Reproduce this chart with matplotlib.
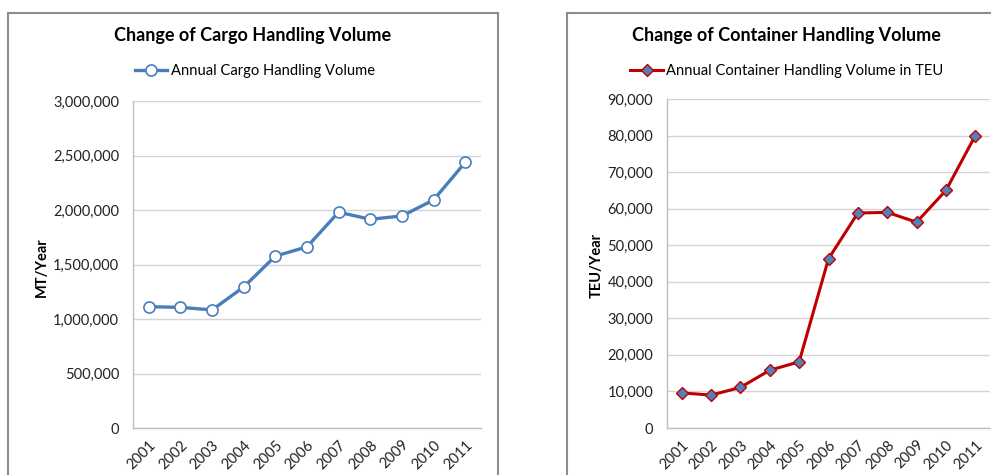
import matplotlib.pyplot as plt
from matplotlib.patches import Rectangle
from matplotlib.ticker import FuncFormatter

years = ['2001', '2002', '2003', '2004', '2005', '2006', '2007', '2008', '2009', '2010', '2011']
cargo_mt = [1113000, 1107000, 1083000, 1294000, 1577000, 1662000, 1980000, 1915000, 1945000, 2092000, 2436000]
container_teu = [9600, 9000, 11100, 15800, 18100, 46300, 58800, 59000, 56300, 65000, 80000]

plt.rcParams['font.family'] = ['Lato', 'DejaVu Sans']

W, H = 991, 475
fig = plt.figure(figsize=(W / 100, H / 100), dpi=100)


def px_axes(x0, y0, x1, y1):
    # pixel box (top-left origin) -> figure axes
    return fig.add_axes([x0 / W, 1 - y1 / H, (x1 - x0) / W, (y1 - y0) / H])


def style_axes(ax, ymax, step):
    ax.set_xlim(-0.5, len(years) - 0.5)
    ax.set_ylim(0, ymax)
    ax.set_yticks(range(0, ymax + 1, step))
    ax.yaxis.set_major_formatter(FuncFormatter(lambda v, p: f'{int(v):,}'))
    ax.set_xticks(range(len(years)))
    ax.set_xticklabels(years, rotation=45, ha='right', rotation_mode='anchor')
    ax.tick_params(length=0, labelsize=10.5, colors='#222222', pad=10)
    ax.tick_params(axis='x', pad=7)
    ax.grid(axis='y', color='#d4d4d4', linewidth=1)
    ax.set_axisbelow(True)
    for s in ('top', 'right'):
        ax.spines[s].set_visible(False)
    for s in ('left', 'bottom'):
        ax.spines[s].set_color('#bfbfbf')
        ax.spines[s].set_linewidth(1)


# chart frames
for x0, x1 in [(8, 498), (567, 1005)]:
    fig.patches.append(Rectangle((x0 / W, -0.1), (x1 - x0) / W, 1.1 - 13 / H,
                                 transform=fig.transFigure, fill=False,
                                 edgecolor='#8c8c8c', linewidth=1.5))

# cargo chart
ax1 = px_axes(133, 101, 481, 428)
ax1.plot(range(len(years)), cargo_mt, color='#4a7ebb', linewidth=2.4,
         marker='o', markersize=8, markerfacecolor='white',
         markeredgecolor='#4a7ebb', markeredgewidth=1.2,
         label='Annual Cargo Handling Volume')
style_axes(ax1, 3000000, 500000)
fig.text(253 / W, 1 - 36 / H, 'Change of Cargo Handling Volume',
         ha='center', va='center', fontsize=13, fontweight='bold')
ax1.legend(loc='center', bbox_to_anchor=(255 / W, 1 - 71 / H),
           bbox_transform=fig.transFigure, frameon=False, fontsize=10.6,
           handlelength=2.2, handletextpad=0.25, borderaxespad=0)
fig.text(42 / W, 1 - 267 / H, 'MT/Year', rotation=90, ha='center',
         va='center', fontsize=10.5, fontweight='bold')

# container chart
ax2 = px_axes(667, 99, 990, 428)
ax2.plot(range(len(years)), container_teu, color='#c00000', linewidth=2.2,
         marker='D', markersize=6.5, markerfacecolor='#4f81bd',
         markeredgecolor='#c00000', markeredgewidth=1,
         label='Annual Container Handling Volume in TEU')
style_axes(ax2, 90000, 10000)
fig.text(786 / W, 1 - 36 / H, 'Change of Container Handling Volume',
         ha='center', va='center', fontsize=13, fontweight='bold')
ax2.legend(loc='center', bbox_to_anchor=(787 / W, 1 - 71 / H),
           bbox_transform=fig.transFigure, frameon=False, fontsize=10.6,
           handlelength=2.2, handletextpad=0.25, borderaxespad=0)
fig.text(597 / W, 1 - 265 / H, 'TEU/Year', rotation=90, ha='center',
         va='center', fontsize=10.5, fontweight='bold')

fig.savefig('out.png', dpi=100)
